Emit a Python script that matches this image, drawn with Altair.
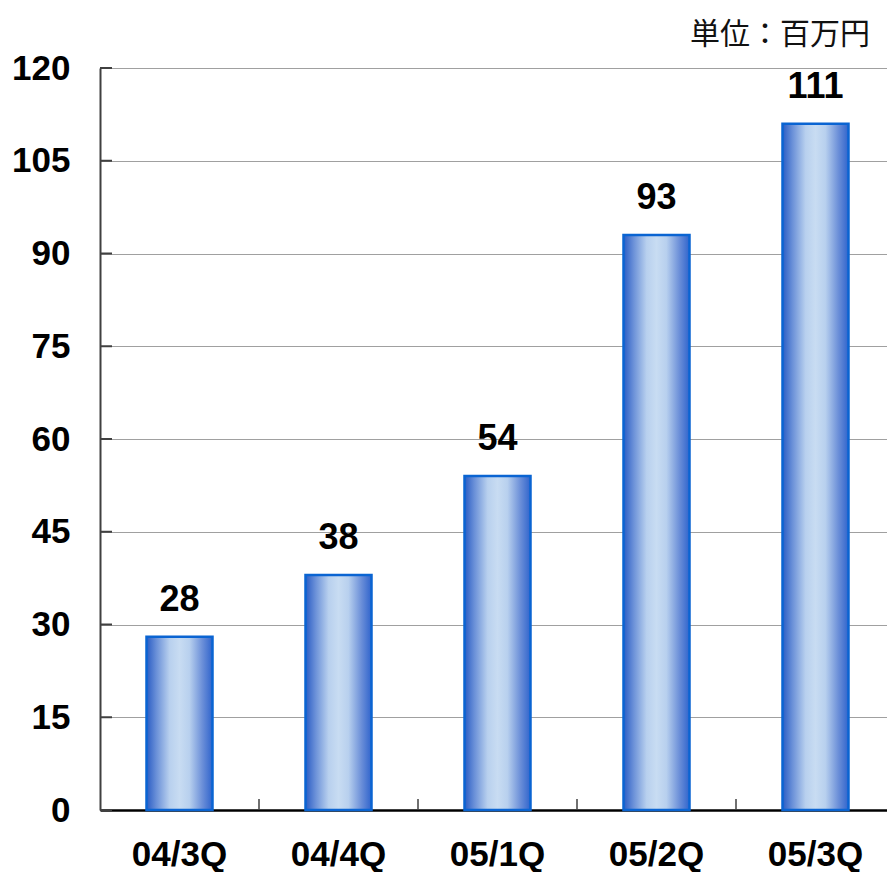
import altair as alt
import pandas as pd

categories = ["04/3Q", "04/4Q", "05/1Q", "05/2Q", "05/3Q"]
values = [28, 38, 54, 93, 111]
y_ticks = [0, 15, 30, 45, 60, 75, 90, 105, 120]
unit_label = "単位：百万円"

df = pd.DataFrame({"cat": categories, "val": values})
tick_df = pd.DataFrame({"v": y_ticks})

num_font = "Liberation Sans"

grad = alt.Gradient(
    gradient="linear",
    x1=0, x2=1, y1=0, y2=0,
    stops=[
        alt.GradientStop(offset=0.0, color="#2a5cc4"),
        alt.GradientStop(offset=0.15, color="#6a90d8"),
        alt.GradientStop(offset=0.35, color="#b8d0ee"),
        alt.GradientStop(offset=0.5, color="#c8dcf2"),
        alt.GradientStop(offset=0.65, color="#b8d0ee"),
        alt.GradientStop(offset=0.85, color="#6a8ed8"),
        alt.GradientStop(offset=1.0, color="#3064cc"),
    ],
)

x_enc = alt.X(
    "cat:N",
    sort=categories,
    scale=alt.Scale(paddingInner=0, paddingOuter=0, range=[0, 795]),
    axis=alt.Axis(
        title=None, labelAngle=0, labelFont=num_font, labelFontSize=35,
        labelFontWeight="bold", labelColor="black", labelPadding=27,
        ticks=False, domainColor="black", domainWidth=2.5, grid=False,
    ),
)
y_enc = alt.Y(
    "val:Q",
    scale=alt.Scale(domain=[0, 120], nice=False),
    axis=alt.Axis(
        title=None, values=y_ticks, labelFont=num_font, labelFontSize=35,
        labelFontWeight="bold", labelColor="black", labelPadding=30,
        ticks=False, domainColor="#404040", domainWidth=2,
        grid=True, gridColor="#a0a0a0", gridWidth=1,
    ),
)

base = alt.Chart(df)

bars = base.mark_bar(size=66, color=grad, stroke="#0a64d2", strokeWidth=2.5).encode(
    x=x_enc, y=y_enc
)

labels = base.mark_text(
    font=num_font, fontSize=36, fontWeight="bold", color="black",
    baseline="alphabetic", dy=-26,
).encode(x=alt.X("cat:N", sort=categories), y="val:Q", text="val:Q")

xticks = base.transform_filter(
    alt.FieldOneOfPredicate(field="cat", oneOf=categories[:-1])
).mark_rule(color="#404040", strokeWidth=1.5).encode(
    x=alt.X("cat:N", sort=categories, bandPosition=1),
    y=alt.value(742), y2=alt.value(731),
)

yticks = alt.Chart(tick_df).mark_rule(color="#404040", strokeWidth=2).encode(
    y=alt.Y("v:Q"), x=alt.value(0), x2=alt.value(12)
)

chart = alt.layer(bars, xticks, yticks, labels).properties(
    width=787,
    height=742,
    padding={"left": 92, "top": 60, "right": 0, "bottom": 62},
    autosize=alt.AutoSizeParams(type="none"),
    title=alt.TitleParams(
        text=unit_label, anchor="end", frame="group", orient="top",
        font="Noto Sans CJK JP", fontSize=30, fontWeight="normal",
        color="#111111", offset=1, dx=-17,
    ),
).configure_view(stroke="#808080", strokeWidth=1.5).configure(background="white")

chart.save("out.html", embed_options={"renderer": "svg", "actions": False})
